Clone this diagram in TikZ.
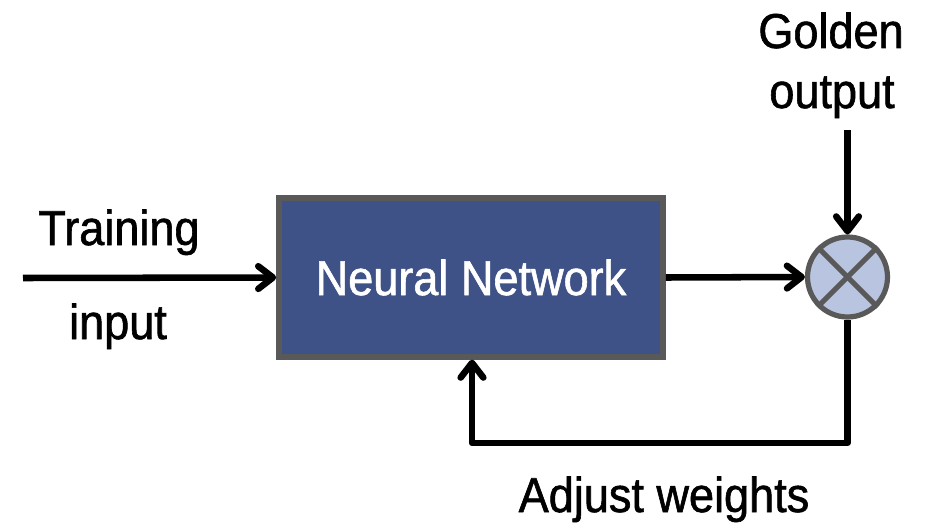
\documentclass[tikz,border=0pt]{standalone}
\usepackage{fontspec}
\setmainfont[FakeStretch=0.92,FakeBold=1.2]{Liberation Sans}
\usetikzlibrary{arrows.meta}

\definecolor{nnblue}{HTML}{3F5287}
\definecolor{nngray}{HTML}{595959}
\definecolor{sumblue}{HTML}{B9C4E0}

\tikzset{
  arr/.style={line width=4.9pt, line join=round,
    -{Straight Barb[length=11pt,width=17pt,line cap=round,line join=round]}},
  lbl/.style={font=\fontsize{36.75}{44}\selectfont, anchor=base, inner sep=0pt},
  nnbox/.style={draw=nngray, fill=nnblue, line width=4.2pt, text=white,
    minimum width=288pt, minimum height=119pt, inner sep=0pt,
    font=\fontsize{36.75}{44}\selectfont},
  summer/.style={circle, draw=nngray, fill=sumblue, line width=3.9pt,
    minimum size=60pt, inner sep=0pt}
}

\begin{document}
\begin{tikzpicture}[x=0.75pt,y=-0.75pt]

\useasboundingbox (0,0) rectangle (934,528); % page size

\node[nnbox] (nn) at (471,277.5) {Neural Network}; % network block
\node[summer] (sum) at (847.5,277) {}; % comparison point
\draw[nngray, line width=3.9pt] (sum.45) -- (sum.225); % cross
\draw[nngray, line width=3.9pt] (sum.135) -- (sum.315);

% labels
\node[lbl] (train) at (119,245) {Training};
\node[lbl] (input) at (118,339) {input};
\node[lbl] (golden) at (831,48) {Golden};
\node[lbl] (output) at (832,108) {output};
\node[lbl] (adjust) at (664,512) {Adjust weights};

% free ends
\coordinate (start) at (23,278);
\coordinate (gold) at (847.5,130);
\coordinate (corner) at (472,443);

% connectors
\draw[arr] (start) -- (nn.west);
\draw[arr] (nn.east) -- (sum.west);
\draw[arr] (gold) -- (sum.north);
\draw[arr] (sum.south) |- (corner) -- (nn.south -| corner);

\end{tikzpicture}
\end{document}
